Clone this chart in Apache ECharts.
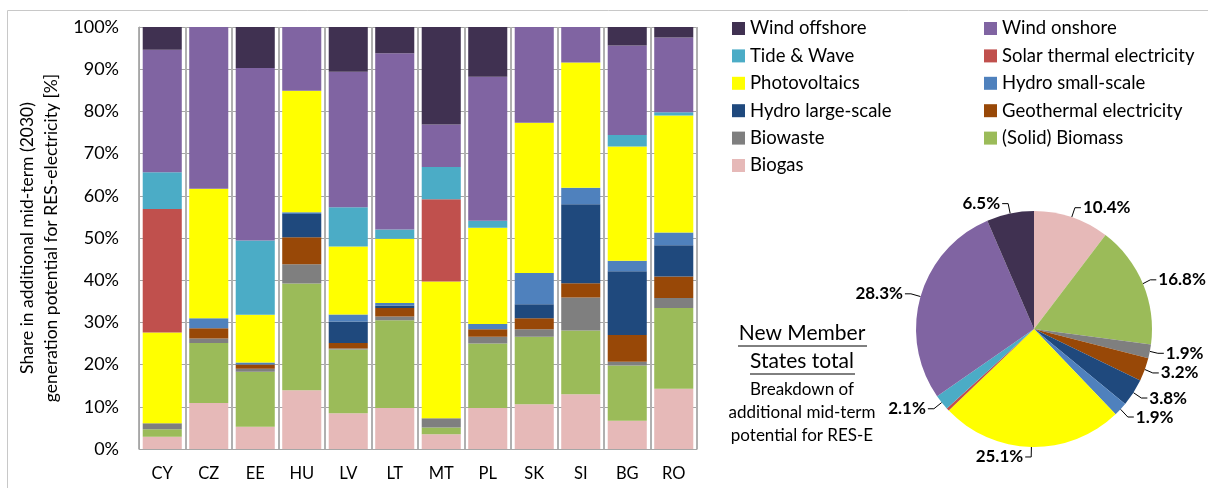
<!DOCTYPE html>
<html>
<head>
<meta charset="utf-8">
<script src="https://cdn.jsdelivr.net/npm/echarts@6/dist/echarts.min.js"></script>
<style>
  html, body { margin: 0; padding: 0; background: #fff; }
  #chart { width: 1208px; height: 488px; }
</style>
</head>
<body>
<div id="chart"></div>
<script>
// countries (x axis)
var countries = ['CY', 'CZ', 'EE', 'HU', 'LV', 'LT', 'MT', 'PL', 'SK', 'SI', 'BG', 'RO'];

// technologies, stacked bottom -> top
var techNames = ['Biogas', '(Solid) Biomass', 'Biowaste', 'Geothermal electricity', 'Hydro large-scale',
  'Hydro small-scale', 'Photovoltaics', 'Solar thermal electricity', 'Tide & Wave', 'Wind onshore', 'Wind offshore'];

// shares in % per country
var biogas       = [2.9, 10.9, 5.3, 13.9, 8.5, 9.7, 3.5, 9.7, 10.6, 13.0, 6.7, 14.3];
var biomass      = [1.8, 14.2, 13.0, 25.3, 15.1, 20.8, 1.6, 15.3, 16.0, 15.1, 13.1, 19.1];
var biowaste     = [1.4, 1.1, 0.7, 4.6, 0.2, 0.9, 2.2, 1.6, 1.8, 7.8, 0.9, 2.4];
var geothermal   = [0, 2.4, 1.0, 6.4, 1.3, 2.0, 0, 1.8, 2.6, 3.4, 6.3, 5.1];
var hydroLarge   = [0, 0, 0, 5.5, 5.1, 0.6, 0, 0, 3.3, 18.7, 15.1, 7.4];
var hydroSmall   = [0, 2.4, 0.5, 0.4, 1.7, 0.6, 0, 1.2, 7.4, 3.9, 2.5, 3.0];
var pv           = [21.5, 30.7, 11.3, 28.8, 16.1, 15.2, 32.4, 22.8, 35.6, 29.7, 27.1, 27.7];
var solarThermal = [29.3, 0, 0, 0, 0, 0, 19.5, 0, 0, 0, 0, 0];
var tideWave     = [8.7, 0, 17.6, 0, 9.3, 2.2, 7.6, 1.7, 0, 0, 2.7, 0.8];
var windOnshore  = [29.0, 38.3, 40.9, 15.1, 32.1, 41.8, 10.1, 34.1, 22.7, 8.4, 21.2, 17.7];
var windOffshore = [5.4, 0, 9.7, 0, 10.6, 6.2, 23.1, 11.8, 0, 0, 4.4, 2.5];

// New Member States total (pie), same order as techNames
var nmsTotal = [10.4, 16.8, 1.9, 3.2, 3.8, 1.9, 25.1, 0.4, 2.1, 28.3, 6.5];

var yTicks = [0, 10, 20, 30, 40, 50, 60, 70, 80, 90, 100];

var colors = ['#E6B9B8', '#9BBB59', '#7F7F7F', '#984807', '#1F497D',
  '#4F81BD', '#FFFF00', '#C0504D', '#4BACC6', '#8064A2', '#403151'];

var barData = [biogas, biomass, biowaste, geothermal, hydroLarge, hydroSmall,
  pv, solarThermal, tideWave, windOnshore, windOffshore];

var font = 'Lato, "Open Sans", sans-serif';

var chart = echarts.init(document.getElementById('chart'));

var series = techNames.map(function(name, i) {
  return {
    name: name,
    type: 'bar',
    stack: 'total',
    barCategoryGap: '16%',
    data: barData[i],
    itemStyle: { color: colors[i] }
  };
});

series.push({
  name: 'NMS total',
  type: 'pie',
  center: [1034, 329],
  radius: 118,
  startAngle: 90,
  clockwise: true,
  data: techNames.map(function(name, i) {
    return {
      name: name,
      value: nmsTotal[i],
      itemStyle: { color: colors[i] },
      label: { show: name !== 'Solar thermal electricity' },
      labelLine: { show: name !== 'Solar thermal electricity' }
    };
  }),
  label: {
    formatter: function(p) { return p.value.toFixed(1) + '%'; },
    fontFamily: font,
    fontWeight: 'bold',
    fontSize: 17,
    color: '#000',
    overflow: 'none',
    distanceToLabelLine: 2
  },
  labelLine: { length: 10, length2: 6, lineStyle: { color: '#000', width: 1 } },
  emphasis: { disabled: true }
});

var legendText = { fontFamily: font, fontSize: 18.5, color: '#000', lineHeight: 18 };

chart.setOption({
  animation: false,
  color: colors,
  grid: { left: 139, right: 511, top: 27, bottom: 39 },
  legend: [{
    orient: 'vertical',
    left: 727,
    top: 14,
    itemWidth: 13,
    itemHeight: 13,
    itemGap: 8.4,
    icon: 'rect',
    textStyle: legendText,
    data: ['Wind offshore', 'Tide & Wave', 'Photovoltaics', 'Hydro large-scale', 'Biowaste', 'Biogas']
  }, {
    orient: 'vertical',
    left: 979,
    top: 14,
    itemWidth: 13,
    itemHeight: 13,
    itemGap: 8.4,
    icon: 'rect',
    textStyle: legendText,
    data: ['Wind onshore', 'Solar thermal electricity', 'Hydro small-scale', 'Geothermal electricity', '(Solid) Biomass']
  }],
  xAxis: {
    type: 'category',
    data: countries,
    axisLine: { lineStyle: { color: '#a6a6a6', width: 1 } },
    axisTick: { show: false },
    axisLabel: { fontFamily: font, fontSize: 16.5, color: '#000', margin: 16 },
    splitLine: { show: true, lineStyle: { color: '#b0b0b0', width: 2 } }
  },
  yAxis: {
    type: 'value',
    min: yTicks[0],
    max: yTicks[yTicks.length - 1],
    interval: 10,
    name: 'Share in additional mid-term (2030)\ngeneration potential for RES-electricity [%]',
    nameLocation: 'middle',
    nameGap: 76,
    nameTextStyle: { fontFamily: font, fontSize: 17.5, color: '#000', lineHeight: 24 },
    axisLine: { show: true, lineStyle: { color: '#a6a6a6' } },
    axisTick: { show: false },
    axisLabel: { fontFamily: font, fontSize: 18, color: '#000', margin: 20, formatter: '{value}%' },
    splitLine: { lineStyle: { color: '#a6a6a6', width: 1 } }
  },
  graphic: [
    {
      type: 'rect',
      shape: { x: 7.5, y: 10.5, width: 1220, height: 500 },
      style: { fill: 'none', stroke: '#c8c8c8', lineWidth: 1 },
      silent: true
    },
    {
      type: 'text', x: 802, y: 333,
      style: { text: 'New Member', font: '21px ' + font, fill: '#000', align: 'center', verticalAlign: 'middle' }
    },
    { type: 'line', shape: { x1: 738, y1: 346, x2: 867, y2: 346 }, style: { stroke: '#000', lineWidth: 1 } },
    {
      type: 'text', x: 802, y: 361,
      style: { text: 'States total', font: '21px ' + font, fill: '#000', align: 'center', verticalAlign: 'middle' }
    },
    { type: 'line', shape: { x1: 750, y1: 374, x2: 855, y2: 374 }, style: { stroke: '#000', lineWidth: 1 } },
    {
      type: 'text', x: 802, y: 413,
      style: {
        text: 'Breakdown of\nadditional mid-term\npotential for RES-E',
        font: '17px ' + font, fill: '#000', align: 'center', verticalAlign: 'middle', lineHeight: 23
      }
    }
  ],
  series: series
});
</script>
</body>
</html>
